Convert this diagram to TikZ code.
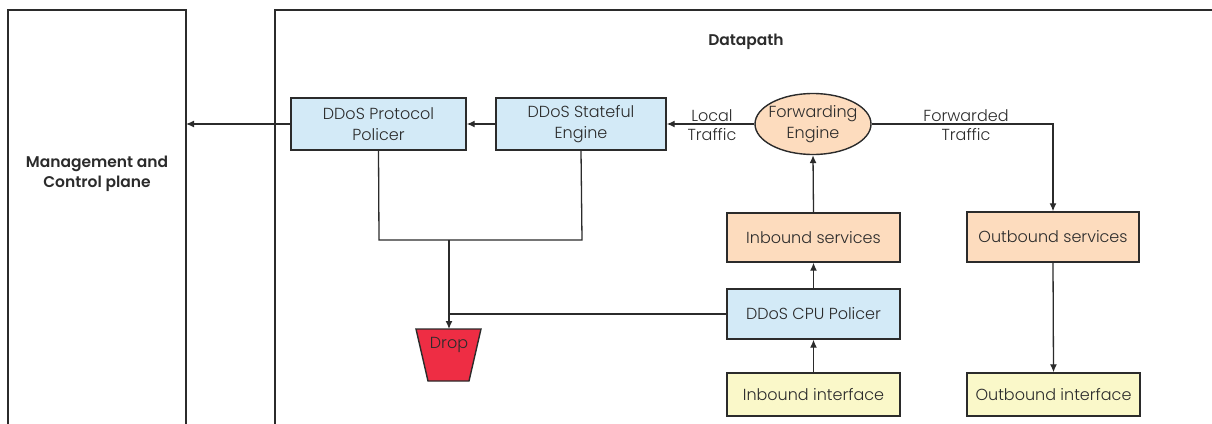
\documentclass[tikz,border=0pt]{standalone}
\usepackage{fontspec}
\setmainfont{Poppins}[UprightFont={* Light}, BoldFont={* SemiBold}]
\usetikzlibrary{arrows.meta,shapes.geometric}
\definecolor{ink}{HTML}{2B2B2B}
\definecolor{policerblue}{HTML}{D3EAF7}
\definecolor{servicepeach}{HTML}{FDDCBE}
\definecolor{ifaceyellow}{HTML}{FAF8C9}
\definecolor{dropred}{HTML}{EE2D44}
\tikzset{
  every node/.style={text=ink, font=\fontsize{16}{20.5}\selectfont},
  panel/.style={draw=ink, line width=1.2pt},
  block/.style={draw=ink, line width=1.4pt, rectangle, align=center, inner sep=0pt},
  twoline/.style={text depth=2pt, text height=0pt},
  policer/.style={block, fill=policerblue},
  service/.style={block, fill=servicepeach},
  iface/.style={block, fill=ifaceyellow},
  flow/.style={draw=ink, line width=1.3pt},
  arr/.style={flow, -{Latex[length=8pt,width=7pt]}},
  heading/.style={font=\fontsize{15.5}{20}\selectfont\bfseries, align=center},
  caption/.style={align=center, font=\fontsize{16}{19.5}\selectfont}
}
\begin{document}
\begin{tikzpicture}[x=1pt,y=-1pt]
\useasboundingbox (0,0) rectangle (1212,423);

% control-plane panel and datapath panel (both run off the page)
\draw[panel] (8,430) -- (8,10) -- (186,10) -- (186,430);
\coordinate (mgmtport) at (186,124);
\node[heading] (mgmt) at (97,174) {Management and\\Control plane};
\draw[panel] (275,430) -- (275,10) -- (1220,10);
\node[heading] (dp) at (746,42) {Datapath};

% blocks
\node[policer, minimum width=175pt, minimum height=52pt] (pp) at (378.5,124) {DDoS Protocol\\Policer};
\node[policer, minimum width=170pt, minimum height=52pt] (se) at (581,124) {DDoS Stateful\\Engine};
\node[draw=ink, line width=1.4pt, fill=servicepeach, ellipse, minimum width=116pt, minimum height=61pt, inner xsep=-5pt, inner ysep=0pt, align=center] (fe) at (813,124) {Forwarding\\Engine};
\node[service, minimum width=173pt, minimum height=49pt] (ins) at (813.5,237.5) {Inbound services};
\node[service, minimum width=172pt, minimum height=50pt] (outs) at (1053,237) {Outbound services};
\node[policer, minimum width=173pt, minimum height=50pt] (cpu) at (813.5,314) {DDoS CPU Policer};
\node[iface, minimum width=173pt, minimum height=43pt] (inif) at (813.5,394.5) {Inbound interface};
\node[iface, minimum width=173pt, minimum height=43pt] (outif) at (1053.5,394.5) {Outbound interface};

% drop bucket
\coordinate (droptop) at (449,329);
\draw[draw=ink, line width=1.4pt, fill=dropred] (416,329) -- (481,329) -- (469,381) -- (428,381) -- cycle;
\node (drop) at (449,345) {Drop};

% connector labels
\node[caption] (local) at (712,125) {Local\\Traffic};
\node[caption] (fwd) at (966,125) {Forwarded\\Traffic};

% connectors
\draw[arr] (pp.west) -- (mgmtport);
\draw[arr] (se.west) -- (pp.east);
\draw[arr] (fe.west) -- (se.east);
\draw[arr] (fe.east) -- (1053,124) -- (outs.north);
\draw[arr] (outs.south) -- (outif.north);
\draw[arr] (inif.north) -- (cpu.south);
\draw[arr] (cpu.north) -- (ins.south);
\draw[arr] (ins.north) -- (fe.south);

\coordinate (merge) at (449,240);
\draw[flow] (pp.south) -- (379,240) -- (582,240) -- (se.south);
\draw[arr] (merge) -- (droptop);
\draw[flow] (cpu.west) -- (449,314);
\end{tikzpicture}
\end{document}
